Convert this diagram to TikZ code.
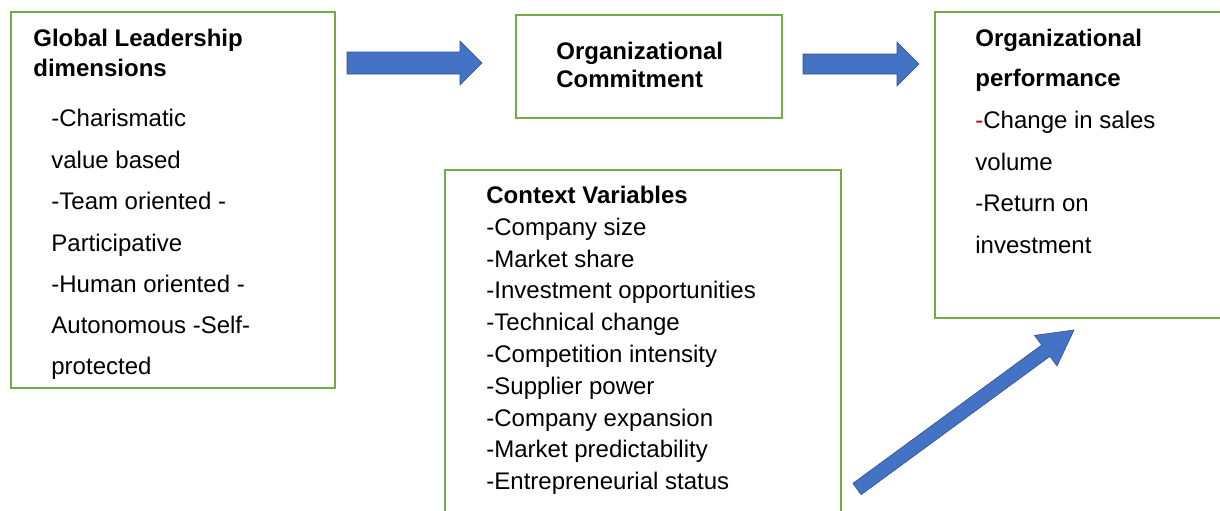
\documentclass[tikz,border=0pt]{standalone}
\usepackage{fontspec}
\setmainfont{Liberation Sans}
\usetikzlibrary{fit,calc}
\definecolor{boxgreen}{HTML}{70AD47}
\definecolor{arrblue}{HTML}{4472C4}
\definecolor{arredge}{HTML}{2F528F}
\definecolor{dashred}{HTML}{C00000}
\tikzset{
  box/.style={draw=boxgreen, line width=1.25pt, inner sep=0pt, fill=none},
  txt/.style={anchor=base west, inner sep=0pt, font=\fontsize{12}{14}\selectfont},
  hdr/.style={txt, font=\fontsize{12}{14}\selectfont\bfseries},
  blockarrow/.style={fill=arrblue, draw=arredge, line width=0.3pt, line join=miter},
}
% #1 start, #2 end, #3 half shaft width, #4 half head width, #5 head length
\newcommand\blockarr[5]{%
  \coordinate (ba-c) at ($(#2)!#5!(#1)$);
  \path[blockarrow]
    ($(#1)!#3!90:(#2)$) -- ($(ba-c)!#3!90:(#2)$) -- ($(ba-c)!#4!90:(#2)$) --
    (#2) -- ($(ba-c)!#4!-90:(#2)$) -- ($(ba-c)!#3!-90:(#2)$) --
    ($(#1)!#3!-90:(#2)$) -- cycle;
}
\begin{document}
\begin{tikzpicture}[x=0.5pt,y=-0.5pt]
\clip (0,0) rectangle (1220,510);
\fill[white] (0,0) rectangle (1220,510);
% boxes
\coordinate (b1tl) at (11,12);   \coordinate (b1br) at (335,388);
\coordinate (b2tl) at (516,15);  \coordinate (b2br) at (782,118);
\coordinate (b3tl) at (935,12);  \coordinate (b3br) at (1240,318);
\coordinate (b4tl) at (445,170); \coordinate (b4br) at (841,540);
\node[box, fit=(b1tl)(b1br)] (lead) {};
\node[box, fit=(b2tl)(b2br)] (commit) {};
\node[box, fit=(b3tl)(b3br)] (perf) {};
\node[box, fit=(b4tl)(b4br)] (context) {};
% box 1 text
\node[hdr] (l1) at (33,46) {Global Leadership};
\node[hdr] (l2) at (33,76) {dimensions};
\node[txt] (l3) at (51,126) {-Charismatic};
\node[txt] (l4) at (51,168) {value based};
\node[txt] (l5) at (51,209) {-Team oriented -};
\node[txt] (l6) at (51,251) {Participative};
\node[txt] (l7) at (51,292) {-Human oriented -};
\node[txt] (l8) at (51,333) {Autonomous -Self-};
\node[txt] (l9) at (51,374) {protected};
% box 2 text
\node[hdr] (c1) at (556,59) {Organizational};
\node[hdr] (c2) at (556,87) {Commitment};
% box 3 text
\node[hdr] (p1) at (975,46) {Organizational};
\node[hdr] (p2) at (975,86) {performance};
\node[txt] (p3) at (975,128) {\textcolor{dashred}{-}Change in sales};
\node[txt] (p4) at (975,170) {volume};
\node[txt] (p5) at (975,211) {-Return on};
\node[txt] (p6) at (975,253) {investment};
% box 4 text
\node[hdr] (v0) at (486,203) {Context Variables};
\node[txt] (v1) at (486,235) {-Company size};
\node[txt] (v2) at (486,267) {-Market share};
\node[txt] (v3) at (486,298) {-Investment opportunities};
\node[txt] (v4) at (486,330) {-Technical change};
\node[txt] (v5) at (486,362) {-Competition intensity};
\node[txt] (v6) at (486,394) {-Supplier power};
\node[txt] (v7) at (486,426) {-Company expansion};
\node[txt] (v8) at (486,457) {-Market predictability};
\node[txt] (v9) at (486,489) {-Entrepreneurial status};
% arrows
\coordinate (a1s) at (347,63); \coordinate (a1e) at (482,63);
\coordinate (a2s) at (803,64); \coordinate (a2e) at (919,64);
\coordinate (a3s) at (857,489); \coordinate (a3e) at (1074,330);
\blockarr{a1s}{a1e}{5.5pt}{11pt}{11pt}
\blockarr{a2s}{a2e}{5pt}{11pt}{11pt}
\blockarr{a3s}{a3e}{3.5pt}{9.5pt}{17.5pt}
\end{tikzpicture}
\end{document}
